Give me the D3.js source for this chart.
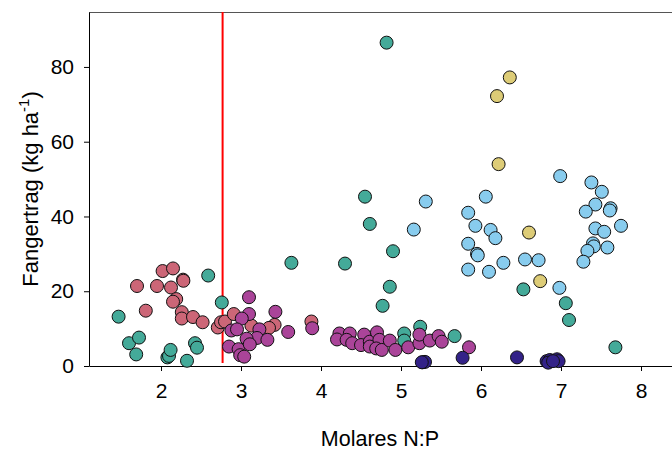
<!DOCTYPE html>
<html>
<head>
<meta charset="utf-8">
<script src="https://cdn.jsdelivr.net/npm/d3@7"></script>
<style>
  body { margin: 0; background: #fff; }
  svg { display: block; font-family: "Liberation Sans", Arial, sans-serif; }
</style>
</head>
<body>
<svg id="chart" width="672" height="451"></svg>
<script>
// Series data: [N:P, yield]
const teal = [[1.47,13.2],[1.60,6.1],[1.725,7.6],[1.69,3.1],[2.08,2.3],[2.1,2.7],[2.12,4.3],[2.325,1.4],[2.425,6.1],[2.45,4.9],[2.59,24.2],[2.76,17.0],[3.63,27.6],[4.30,27.4],[4.55,45.3],[4.61,38.0],[4.82,86.5],[4.90,30.7],[4.86,21.2],[4.77,16.1],[5.24,10.5],[5.04,8.7],[5.04,6.8],[5.67,8.0],[6.53,20.5],[7.06,16.8],[7.10,12.3],[7.68,5.0]];
const rose = [[2.02,25.4],[2.15,26.1],[1.70,21.4],[1.95,21.4],[2.125,21.0],[2.275,23.1],[2.28,22.8],[2.19,17.9],[2.15,17.2],[1.81,14.8],[2.26,14.4],[2.26,12.7],[2.4,13.1],[2.52,11.7],[2.71,10.3],[2.75,11.7],[2.8,11.9],[2.91,13.9],[3.13,10.8],[3.42,11.0],[3.35,10.2],[3.88,11.9]];
const purple = [[3.10,18.4],[3.10,13.9],[3.01,12.7],[3.43,14.5],[2.88,9.5],[2.95,9.8],[3.23,9.8],[3.59,9.1],[3.20,7.5],[3.33,7.0],[3.07,7.3],[2.85,5.2],[2.97,4.5],[2.99,2.9],[3.04,2.5],[3.11,5.8],[3.89,10.1],[4.23,8.7],[4.20,7.1],[4.36,8.7],[4.32,7.0],[4.39,6.1],[4.54,8.4],[4.50,5.6],[4.61,6.5],[4.61,5.2],[4.70,9.0],[4.73,7.0],[4.69,4.7],[4.76,4.3],[4.86,6.8],[4.93,4.3],[5.09,5.0],[5.23,6.1],[5.23,8.4],[5.36,6.8],[5.47,8.0],[5.51,6.5],[5.85,5.0]];
const darkblue = [[5.27,1.0],[5.30,1.1],[5.26,1.0],[5.77,2.2],[6.45,2.3],[6.82,1.3],[6.86,1.6],[6.95,1.8],[6.97,1.3],[6.84,0.9],[6.90,1.3]];
const lightblue = [[6.99,50.8],[7.38,49.1],[7.51,46.6],[7.43,43.2],[7.31,41.3],[7.62,42.2],[7.61,41.6],[7.75,37.5],[7.43,36.8],[7.54,35.9],[7.40,32.8],[7.41,32.0],[7.58,31.7],[7.33,30.8],[7.28,27.9],[6.06,45.3],[5.84,41.0],[5.93,37.5],[6.12,36.4],[6.18,34.2],[5.84,32.7],[5.95,30.0],[5.96,29.6],[5.84,25.8],[6.10,25.2],[6.28,27.6],[6.55,28.5],[6.72,28.3],[6.98,20.9],[5.31,44.0],[5.16,36.5]];
const sand = [[6.36,77.2],[6.20,72.2],[6.22,54.0],[6.60,35.7],[6.74,22.7]];
const seriesNames = ["teal","rose","purple","darkblue","lightblue","sand"];
const seriesColors = ["#44AA99","#CC6677","#AA4499","#332288","#88CCEE","#DDCC77"];
const seriesData = [teal, rose, purple, darkblue, lightblue, sand];
const xTicks = [2,3,4,5,6,7,8];
const yTicks = [0,20,40,60,80];
const thresholdNP = 2.77;

const svg = d3.select("#chart");
const mLeft = 89, mTop = 12, mBottom = 366, mRight = 672;
const x = d3.scaleLinear().domain([1.1, 8.5]).range([mLeft, mLeft + 7.4 * 80]);
const y = d3.scaleLinear().domain([0, 94.7]).range([mBottom, mTop]);

// top border
svg.append("line").attr("x1", mLeft).attr("x2", mRight).attr("y1", mTop + 0.5).attr("y2", mTop + 0.5)
  .attr("stroke", "#555").attr("stroke-width", 1);

const xAxis = svg.append("g").attr("transform", `translate(0,${mBottom})`)
  .call(d3.axisBottom(x).tickValues(xTicks).tickSize(5).tickSizeOuter(0).tickPadding(12));
const yAxis = svg.append("g").attr("transform", `translate(${mLeft},0)`)
  .call(d3.axisLeft(y).tickValues(yTicks).tickSize(5).tickSizeOuter(0).tickPadding(10));
[xAxis, yAxis].forEach(g => {
  g.selectAll("text").attr("font-size", 21).attr("font-family", "Liberation Sans, Arial, sans-serif").attr("fill", "#000");
  g.selectAll("line,path").attr("stroke", "#000");
});

// threshold line
svg.append("line").attr("x1", x(thresholdNP)).attr("x2", x(thresholdNP))
  .attr("y1", mTop).attr("y2", mBottom - 3).attr("stroke", "#ff0000").attr("stroke-width", 2);

// points
seriesData.forEach((data, i) => {
  svg.append("g").attr("class", seriesNames[i]).selectAll("circle").data(data).join("circle")
    .attr("cx", d => x(d[0])).attr("cy", d => y(d[1])).attr("r", 6.5)
    .attr("fill", seriesColors[i]).attr("stroke", "#111").attr("stroke-width", 1);
});

// axis titles
svg.append("text").attr("x", 380).attr("y", 446).attr("text-anchor", "middle")
  .attr("font-size", 21.5).text("Molares N:P");
const yl = svg.append("text").attr("transform", "translate(38,189) rotate(-90)")
  .attr("text-anchor", "middle").attr("font-size", 22);
yl.append("tspan").text("Fangertrag (kg ha");
yl.append("tspan").attr("font-size", 15).attr("dy", -9).text("-1");
yl.append("tspan").attr("dy", 9).text(")");
</script>
</body>
</html>
